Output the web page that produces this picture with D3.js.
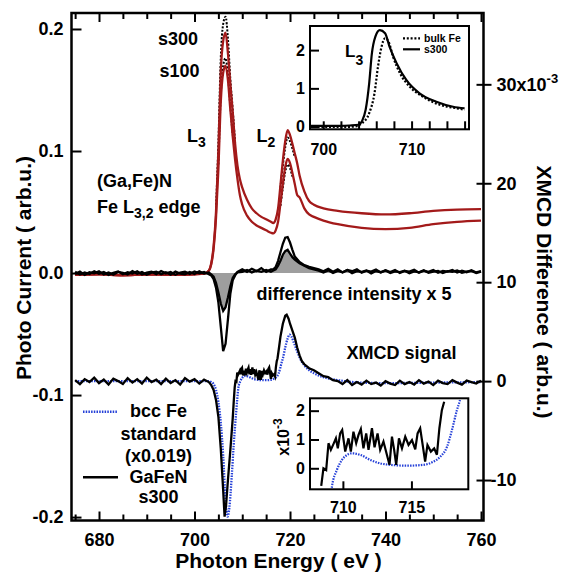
<!DOCTYPE html>
<html>
<head>
<meta charset="utf-8">
<script src="https://cdnjs.cloudflare.com/ajax/libs/d3/7.8.5/d3.min.js"></script>
<style>
body { margin: 0; background: #fff; }
svg { font-family: "Liberation Sans", Arial, sans-serif; font-weight: bold; }
</style>
</head>
<body>
<div id="chart"></div>
<script>
// ---- data ----
// XAS (left axis, photo current), red solid
const xasE = [675,680,685,690,695,700,702,703,703.5,704,704.5,705,705.5,706,706.5,707,707.5,708,708.5,709,709.5,710,711,712,713,714,715,716,716.5,717,717.5,718,718.5,719,719.5,720,720.5,721,721.5,722,723,724,725,727,730,735,740,745,750,755,760];
const xasS300 = [-0.0015,-0.001,-0.0018,-0.0012,-0.0015,-0.001,-0.0005,0.002,0.008,0.022,0.05,0.1,0.165,0.19,0.197,0.18,0.155,0.132,0.106,0.088,0.077,0.07,0.06,0.053,0.049,0.046,0.044,0.042,0.041,0.044,0.053,0.072,0.092,0.108,0.117,0.113,0.106,0.098,0.09,0.08,0.067,0.059,0.056,0.053,0.051,0.049,0.048,0.049,0.051,0.052,0.0523];
const xasS100 = [-0.0015,-0.001,-0.0018,-0.0012,-0.0015,-0.001,-0.0005,0.002,0.007,0.02,0.045,0.085,0.14,0.164,0.17,0.158,0.134,0.112,0.093,0.077,0.064,0.056,0.047,0.042,0.039,0.037,0.035,0.033,0.0325,0.035,0.042,0.057,0.073,0.087,0.0935,0.09,0.082,0.073,0.064,0.062,0.053,0.048,0.046,0.043,0.04,0.037,0.036,0.037,0.04,0.042,0.043];
// opposite helicity (black dotted), only where it departs from the red
const dotS300L3E = [704.5,705,705.5,706,706.5,707,707.5,708,708.5];
const dotS300L3 = [0.053,0.106,0.176,0.204,0.21,0.192,0.159,0.134,0.107];
const dotS300L2E = [718,718.5,719,719.5,720,720.5,721];
const dotS300L2 = [0.07,0.088,0.103,0.111,0.108,0.102,0.095];
const dotS100L3E = [705,705.5,706,706.5,707,707.5,708];
const dotS100L3 = [0.089,0.146,0.17,0.176,0.162,0.137,0.113];
const dotS100L2E = [718,718.5,719,719.5,720,720.5];
const dotS100L2 = [0.055,0.07,0.083,0.089,0.086,0.079];

// difference intensity x 5 (left axis)
const diffE = [675,676,677,678,679,680,681,682,683,684,685,686,687,688,689,690,691,692,693,694,695,696,697,698,699,700,701,702,703,
  703.5,704,704.5,705,705.5,706,706.5,707,707.5,708,708.5,709,
  710,711,712,713,714,715,716,
  716.5,717,717.5,718,718.5,719,719.5,720,720.5,721,
  722,723,724,725,
  726,727,728,729,730,731,732,733,734,735,736,737,738,739,740,741,742,743,744,745,746,747,748,749,750,751,752,753,754,755,756,757,758,759,760];
const diffS300 = [0.001,-0.0012,0.0005,-0.0008,0.0015,-0.0005,0.0008,-0.0015,0.0002,0.0012,-0.001,0.0006,-0.0004,0.0014,-0.0012,0.0003,0.001,-0.0009,0.0016,-0.0003,0.0009,-0.0014,0.0004,0.0011,-0.0007,0.0013,-0.0002,0.0008,-0.001,
  -0.002,-0.005,-0.012,-0.024,-0.044,-0.064,-0.058,-0.038,-0.017,-0.006,-0.002,0.001,
  0.003,0.001,0.0035,0.0015,0.004,0.001,0.003,
  0.003,0.005,0.01,0.017,0.024,0.029,0.0295,0.025,0.019,0.0135,
  0.009,0.0065,0.005,0.004,
  0.003,0.0015,0.0035,0.001,0.003,0.0005,0.0025,0.0015,0.003,0.0002,0.002,0.0012,0.0028,0.0004,0.0022,0.0008,0.0025,0.0001,0.0018,0.0012,0.0026,0.0003,0.002,0.0009,0.0024,0.0002,0.0017,0.0011,0.0025,0.0004,0.0019,0.0007,0.0023,0.0005,0.0015];
const diffS100 = [-0.0008,0.0012,-0.0015,0.0006,-0.0003,0.0014,-0.0011,0.0004,-0.0013,0.0009,0.0002,-0.0012,0.0015,-0.0006,0.0008,-0.0014,0.0003,0.0011,-0.0009,0.0006,-0.0013,0.0012,-0.0004,-0.0011,0.0009,-0.0008,0.0014,-0.0005,0.0004,
  -0.001,-0.003,-0.008,-0.016,-0.025,-0.031,-0.028,-0.02,-0.011,-0.004,-0.001,0.0005,
  0.001,0.0025,0.0005,0.002,0.001,0.0025,0.001,
  0.002,0.003,0.006,0.01,0.015,0.018,0.019,0.016,0.013,0.011,
  0.008,0.006,0.004,0.003,
  0.002,0.0005,0.0022,0,0.0018,0.0006,0.0024,-0.0002,0.0015,0.0009,0.002,-0.0003,0.0016,0.0007,0.0021,0,0.0013,0.0008,0.0019,-0.0001,0.0014,0.0006,0.0022,0.0002,0.0011,0.0017,0,0.0015,0.0009,0.0021,0.0003,0.0012,0.0018,0.0001,0.0012];

// XMCD signal GaFeN s300 (right axis, x10^-3)
const xmcdPreE = [675,676,677,678,679,680,681,682,683,684,685,686,687,688,689,690,691,692,693,694,695,696,697,698,699,700,701,702,703,703.5,704,704.5,705,705.5,706,706.3,706.6,707,707.5,708,708.2];
const xmcdPre = [0.1,-0.3,0.2,-0.1,0.35,-0.2,0.15,-0.35,0.25,0,-0.3,0.3,-0.15,0.2,-0.25,0.35,-0.1,0.15,-0.3,0.25,-0.2,0.1,-0.35,0.3,-0.05,0.2,-0.25,0.15,-0.1,-0.4,-0.9,-1.9,-3.6,-6.8,-11,-13.7,-12.6,-10,-7,-3.8,-2.2];
const xmcdMidE = [708.42,708.58,708.78,708.95,709.12,709.31,709.49,709.63,709.8,709.95,710.17,710.41,710.58,710.77,710.97,711.14,711.31,711.5,711.7,711.87,712.12,712.31,712.53,712.72,712.96,713.21,713.4,713.58,713.74,713.89,714.09,714.31,714.55,714.79,715.04,715.28,715.45,715.64,715.84,716,716.17,716.42,716.66,716.86,717.04,717.22,717.39];
const xmcdMid = [-0.61,0,-0.06,0.87,0.64,0.84,1.04,0.69,1.21,1.33,0.58,1.04,0.58,1.27,0.87,1.16,1.36,0.69,1.21,0.64,1.39,0.73,1.21,0.64,0.93,0.47,0.12,1.1,0.64,0.12,1.04,0.69,1.1,0.81,0.98,0.66,1.21,1.39,0.75,0.23,0.81,0.58,0.69,0.47,1.39,2.02,2.31];
const xmcdPostE = [717.7,718,718.5,719,719.3,719.7,720,720.5,721,721.5,722,722.5,723,724,725,726,727,728,729,730,731,732,733,734,735,736,737,738,739,740,741,742,743,744,745,746,747,748,749,750,751,752,753,754,755,756,757,758,759,760];
const xmcdPost = [3.4,4.5,5.8,6.6,6.7,6.3,5.8,5.1,4.4,3.4,2.6,2,1.7,1.3,1.1,0.8,0.5,0.4,0.1,0,-0.3,0.1,-0.4,-0.1,-0.35,0.05,-0.3,-0.15,-0.45,0,-0.25,-0.4,0.05,-0.3,-0.1,-0.35,0.1,-0.25,-0.05,-0.4,0.05,-0.2,-0.3,0.1,-0.15,-0.35,0.05,-0.1,-0.25,0.05];

// bcc Fe standard (x0.019), blue dotted
const bccE = [675,690,700,703,703.5,704,704.5,705,705.5,706,706.5,706.9,707.3,707.8,708.2,708.7,
  709.2,709.56,709.93,710.29,710.66,711.3,712,712.72,713.45,714.67,715.88,716.61,717.1,717.6,717.96,718.32,718.51,
  719,719.5,719.9,720.3,720.8,721.5,722,723,724,725,727,730,735,740,750,760];
const bccFe = [0,0,0,0,-0.1,-0.3,-0.9,-2.1,-4.2,-7.5,-12,-13.7,-12.8,-9.6,-6.5,-3.3,
  -0.64,-0.06,0.29,0.46,0.52,0.46,0.29,0.17,0.12,0.09,0.12,0.23,0.4,0.75,1.33,2.02,2.31,
  3.4,4.3,4.7,4.5,3.9,3,2.4,1.6,1.1,0.8,0.4,0.1,-0.15,-0.2,-0.15,-0.1];

// top inset: normalised L3 edge
const insS300E = [698.5,700,702,703,704,704.4,704.8,705.2,705.5,705.9,706.4,707,707.5,708.3,709.4,710.9,712.8,714.7,716];
const insS300 = [0.02,0.02,0.02,0.03,0.05,0.15,0.44,1.13,1.9,2.35,2.52,2.44,2.09,1.66,1.22,0.87,0.65,0.52,0.48];
const insBulkE = [698.5,702,703.5,704.4,705.2,705.8,706.2,706.6,707,707.4,707.9,708.7,709.8,711.3,713.2,715.1,716];
const insBulk = [-0.01,-0.01,0,0.09,0.35,0.87,1.57,2.09,2.31,2.22,1.83,1.39,1.04,0.78,0.57,0.48,0.44];

// ticks
const xMajor = [680,700,720,740,760];
const xMinor = [675,685,690,695,705,710,715,725,730,735,745,750,755];
const yLeftTicks = [-0.2,-0.1,0,0.1,0.2];
const yRightTicks = [-10,0,10,20,30];
const ins1XTicks = [700,702,704,706,708,710,712,714,716];
const ins1YTicks = [0,1,2];
const ins2XTicks = [710,715];
const ins2YTicks = [0,1,2];

// ---- drawing ----
const W = 569, H = 574;
const red = '#a31a1a', blue = '#2540d8';
const svg = d3.select('#chart').append('svg').attr('width', W).attr('height', H);

const x = d3.scaleLinear().domain([674.24, 760.52]).range([71.5, 483.5]);
const yL = d3.scaleLinear().domain([-0.2028, 0.2131]).range([520.5, 13]);
const yR = d3.scaleLinear().domain([-14.09, 37.21]).range([520.5, 13]);

const zip = (a, b) => a.map((d, i) => [d, b[i]]);
const line = (sx, sy, curve) => d3.line().x(d => sx(d[0])).y(d => sy(d[1])).curve(curve || d3.curveLinear);

const defs = svg.append('defs');
defs.append('clipPath').attr('id', 'clipMain').append('rect')
  .attr('x', 71.5).attr('y', 13).attr('width', 412).attr('height', 507.5);

const plot = svg.append('g').attr('clip-path', 'url(#clipMain)');

// gray fill under s100 difference
plot.append('path').datum(zip(diffE, diffS100))
  .attr('d', d3.area().x(d => x(d[0])).y0(yL(0)).y1(d => yL(d[1])))
  .attr('fill', '#9e9e9e');

// dotted helicity curves under the red
[[dotS300L3E, dotS300L3], [dotS300L2E, dotS300L2], [dotS100L3E, dotS100L3], [dotS100L2E, dotS100L2]].forEach(s => {
  plot.append('path').datum(zip(s[0], s[1]))
    .attr('d', line(x, yL, d3.curveMonotoneX))
    .attr('fill', 'none').attr('stroke', '#000').attr('stroke-width', 2).attr('stroke-dasharray', '2,1.6');
});

[xasS100, xasS300].forEach(v => {
  plot.append('path').datum(zip(xasE, v))
    .attr('d', line(x, yL, d3.curveMonotoneX))
    .attr('fill', 'none').attr('stroke', red).attr('stroke-width', 2.3);
});

[diffS100, diffS300].forEach(v => {
  plot.append('path').datum(zip(diffE, v))
    .attr('d', line(x, yL))
    .attr('fill', 'none').attr('stroke', '#000').attr('stroke-width', 2.3);
});

const xmcdE = xmcdPreE.concat(xmcdMidE, xmcdPostE);
const xmcd = xmcdPre.concat(xmcdMid, xmcdPost);

plot.append('path').datum(zip(bccE, bccFe))
  .attr('d', line(x, yR, d3.curveMonotoneX))
  .attr('fill', 'none').attr('stroke', blue).attr('stroke-width', 2.3).attr('stroke-dasharray', '1.5,1.2');
plot.append('path').datum(zip(xmcdE, xmcd))
  .attr('d', line(x, yR))
  .attr('fill', 'none').attr('stroke', '#000').attr('stroke-width', 2.3);

// axes
function styleAxis(g, size) {
  g.select('.domain').remove();
  g.attr('font-family', '"Liberation Sans", Arial, sans-serif').attr('font-size', size).attr('font-weight', 'bold');
  g.selectAll('.tick line').attr('stroke-width', 2);
  g.selectAll('.tick text').attr('fill', '#000');
}

svg.append('g').attr('transform', 'translate(0,520.5)')
  .call(d3.axisBottom(x).tickValues(xMajor).tickSizeInner(-9).tickSizeOuter(0).tickPadding(13).tickFormat(d => d))
  .call(g => styleAxis(g, 18));
svg.append('g').attr('transform', 'translate(0,520.5)')
  .call(d3.axisBottom(x).tickValues(xMinor).tickSizeInner(-6).tickSizeOuter(0).tickFormat(''))
  .call(g => styleAxis(g, 18));
svg.append('g').attr('transform', 'translate(0,13)')
  .call(d3.axisTop(x).tickValues(xMajor).tickSizeInner(-9).tickSizeOuter(0).tickFormat(''))
  .call(g => styleAxis(g, 18));
svg.append('g').attr('transform', 'translate(0,13)')
  .call(d3.axisTop(x).tickValues(xMinor).tickSizeInner(-6).tickSizeOuter(0).tickFormat(''))
  .call(g => styleAxis(g, 18));

svg.append('g').attr('transform', 'translate(71.5,0)')
  .call(d3.axisLeft(yL).tickValues(yLeftTicks).tickSizeInner(-10).tickSizeOuter(0).tickPadding(8).tickFormat(d => d.toFixed(1)))
  .call(g => styleAxis(g, 18));

const rAxis = svg.append('g').attr('transform', 'translate(483.5,0)')
  .call(d3.axisRight(yR).tickValues(yRightTicks).tickSizeInner(8).tickSizeOuter(0).tickPadding(5).tickFormat(d => d === 30 ? '30x10' : String(d)))
  .call(g => styleAxis(g, 18));
rAxis.selectAll('.tick text').filter(d => d === 30)
  .append('tspan').attr('dy', '-0.55em').attr('font-size', 13).text('-3');
rAxis.selectAll('.tick text').filter(d => d < 0).attr('dx', '-0.33em');
svg.append('g').attr('transform', 'translate(483.5,0)')
  .call(d3.axisRight(yR).tickValues(yRightTicks).tickSizeInner(-7).tickSizeOuter(0).tickFormat(''))
  .call(g => styleAxis(g, 18));

svg.append('rect').attr('x', 71.5).attr('y', 13).attr('width', 412).attr('height', 507.5)
  .attr('fill', 'none').attr('stroke', '#000').attr('stroke-width', 2.5);

// ---- top inset ----
const x1 = d3.scaleLinear().domain([698.5, 716.5]).range([310, 469]);
const y1 = d3.scaleLinear().domain([-0.07, 2.63]).range([129.3, 26]);
svg.append('rect').attr('x', 310).attr('y', 26).attr('width', 159).attr('height', 103.3).attr('fill', '#fff');
defs.append('clipPath').attr('id', 'clipIns1').append('rect')
  .attr('x', 310).attr('y', 26).attr('width', 159).attr('height', 103.3);
const ins1 = svg.append('g').attr('clip-path', 'url(#clipIns1)');
ins1.append('path').datum(zip(insBulkE, insBulk))
  .attr('d', line(x1, y1, d3.curveMonotoneX))
  .attr('fill', 'none').attr('stroke', '#000').attr('stroke-width', 2.2).attr('stroke-dasharray', '2,1.8');
ins1.append('path').datum(zip(insS300E, insS300))
  .attr('d', line(x1, y1, d3.curveMonotoneX))
  .attr('fill', 'none').attr('stroke', '#000').attr('stroke-width', 2.2);
svg.append('g').attr('transform', 'translate(0,129.3)')
  .call(d3.axisBottom(x1).tickValues(ins1XTicks).tickSizeInner(-8).tickSizeOuter(0).tickPadding(14).tickFormat(d => d % 10 === 0 ? d : ''))
  .call(g => styleAxis(g, 16));
svg.append('g').attr('transform', 'translate(310,0)')
  .call(d3.axisLeft(y1).tickValues(ins1YTicks).tickSizeInner(-9).tickSizeOuter(0).tickPadding(5).tickFormat(d => d))
  .call(g => styleAxis(g, 16));
svg.append('rect').attr('x', 310).attr('y', 26).attr('width', 159).attr('height', 103.3)
  .attr('fill', 'none').attr('stroke', '#000').attr('stroke-width', 2);
// inset legend
svg.append('line').attr('x1', 403).attr('x2', 420).attr('y1', 38.3).attr('y2', 38.3)
  .attr('stroke', '#000').attr('stroke-width', 2.2).attr('stroke-dasharray', '2,1.8');
svg.append('line').attr('x1', 403).attr('x2', 420).attr('y1', 49.3).attr('y2', 49.3)
  .attr('stroke', '#000').attr('stroke-width', 2.2);
svg.append('text').attr('x', 424).attr('y', 42).attr('font-size', 10.5).text('bulk Fe');
svg.append('text').attr('x', 424).attr('y', 53).attr('font-size', 10.5).text('s300');
const tL3i = svg.append('text').attr('x', 345).attr('y', 56.7).attr('font-size', 17);
tL3i.append('tspan').text('L');
tL3i.append('tspan').attr('dy', 8).attr('font-size', 14).text('3');

// ---- bottom inset ----
const x2 = d3.scaleLinear().domain([707.6, 719.15]).range([310, 468.3]);
const y2 = d3.scaleLinear().domain([-0.73, 2.43]).range([489.3, 398.3]);
svg.append('rect').attr('x', 310).attr('y', 398.3).attr('width', 158.3).attr('height', 91).attr('fill', '#fff');
defs.append('clipPath').attr('id', 'clipIns2').append('rect')
  .attr('x', 310).attr('y', 398.3).attr('width', 158.3).attr('height', 91);
const ins2 = svg.append('g').attr('clip-path', 'url(#clipIns2)');
ins2.append('path').datum(zip(bccE, bccFe))
  .attr('d', line(x2, y2, d3.curveMonotoneX))
  .attr('fill', 'none').attr('stroke', blue).attr('stroke-width', 2.2).attr('stroke-dasharray', '1.5,1.2');
ins2.append('path').datum(zip(xmcdMidE, xmcdMid))
  .attr('d', line(x2, y2))
  .attr('fill', 'none').attr('stroke', '#000').attr('stroke-width', 2.2);
svg.append('g').attr('transform', 'translate(0,489.3)')
  .call(d3.axisBottom(x2).tickValues(ins2XTicks).tickSizeInner(-8).tickSizeOuter(0).tickPadding(12).tickFormat(d => d))
  .call(g => styleAxis(g, 16));
svg.append('g').attr('transform', 'translate(310,0)')
  .call(d3.axisLeft(y2).tickValues(ins2YTicks).tickSizeInner(-9).tickSizeOuter(0).tickPadding(5).tickFormat(d => d))
  .call(g => styleAxis(g, 16));
svg.append('rect').attr('x', 310).attr('y', 398.3).attr('width', 158.3).attr('height', 91)
  .attr('fill', 'none').attr('stroke', '#000').attr('stroke-width', 2);
const tx10 = svg.append('text').attr('transform', 'translate(289,437) rotate(-90)')
  .attr('text-anchor', 'middle').attr('font-size', 16);
tx10.append('tspan').text('x10');
tx10.append('tspan').attr('dy', '-0.55em').attr('font-size', 12).text('-3');

// ---- annotations ----
function sub(xp, yp, main, subTxt, rest, size) {
  const t = svg.append('text').attr('x', xp).attr('y', yp).attr('font-size', size);
  t.append('tspan').text(main);
  t.append('tspan').attr('dy', 5).attr('font-size', 14).text(subTxt);
  if (rest) t.append('tspan').attr('dy', -5).text(rest);
  return t;
}
svg.append('text').attr('x', 158).attr('y', 45).attr('font-size', 18).text('s300');
svg.append('text').attr('x', 159.5).attr('y', 77).attr('font-size', 18).text('s100');
sub(187, 142, 'L', '3', null, 18);
sub(256.5, 142, 'L', '2', null, 18);
svg.append('text').attr('x', 97).attr('y', 186.7).attr('font-size', 18).text('(Ga,Fe)N');
sub(97, 213, 'Fe L', '3,2', ' edge', 18);
svg.append('text').attr('x', 256.5).attr('y', 300).attr('font-size', 18).text('difference intensity x 5');
svg.append('text').attr('x', 346.5).attr('y', 358.5).attr('font-size', 18).text('XMCD signal');

// legend
svg.append('line').attr('x1', 83).attr('x2', 118).attr('y1', 411.7).attr('y2', 411.7)
  .attr('stroke', blue).attr('stroke-width', 2.5).attr('stroke-dasharray', '1.5,1.2');
svg.append('line').attr('x1', 83).attr('x2', 118).attr('y1', 477.3).attr('y2', 477.3)
  .attr('stroke', '#000').attr('stroke-width', 2.5);
[['bcc Fe', 416.7], ['standard', 440], ['(x0.019)', 461.7], ['GaFeN', 483], ['s300', 503.3]].forEach(d => {
  svg.append('text').attr('x', 158.5).attr('y', d[1]).attr('text-anchor', 'middle').attr('font-size', 18).text(d[0]);
});

// axis titles
svg.append('text').attr('transform', 'translate(31,268) rotate(-90)').attr('text-anchor', 'middle')
  .attr('font-size', 21).text('Photo Current ( arb.u.)');
svg.append('text').attr('transform', 'translate(537,292) rotate(90)').attr('text-anchor', 'middle')
  .attr('font-size', 21).text('XMCD Difference ( arb.u.)');
svg.append('text').attr('x', 278.5).attr('y', 568).attr('text-anchor', 'middle')
  .attr('font-size', 21).text('Photon Energy ( eV )');
</script>
</body>
</html>
